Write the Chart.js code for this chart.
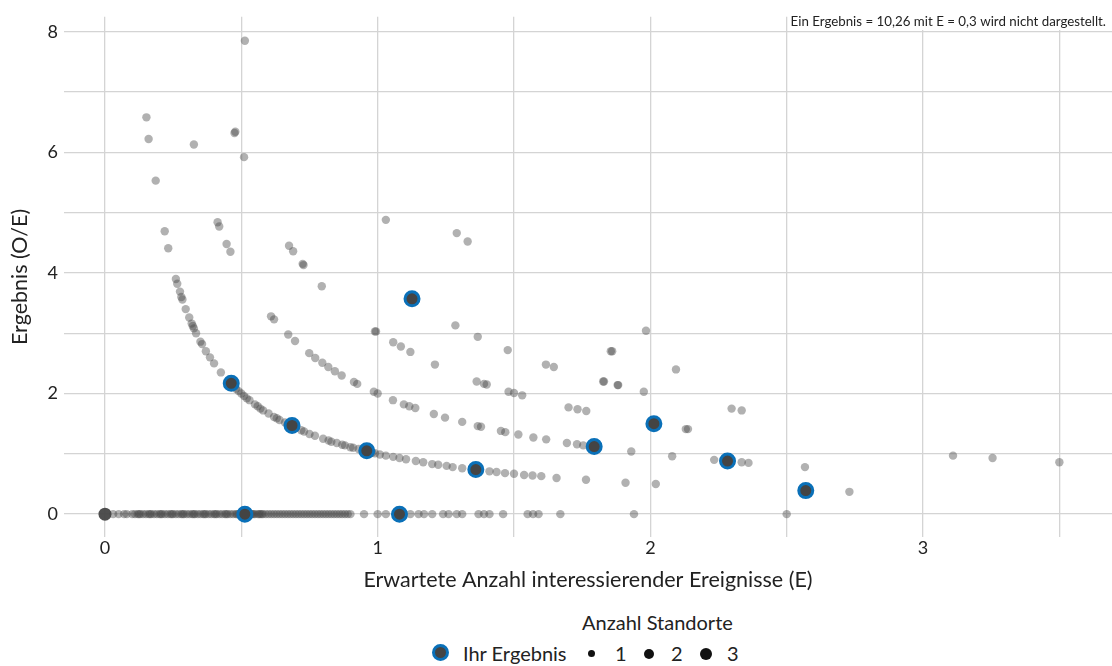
<!DOCTYPE html>
<html>
<head>
<meta charset="utf-8">
<script src="https://cdn.jsdelivr.net/npm/chart.js@4/dist/chart.umd.min.js"></script>
<style>
  body { margin: 0; background: #fff; font-family: Lato, "Noto Sans", sans-serif; color: #222; }
  #wrap { position: relative; width: 1112px; height: 666px; }
  #legend { position: absolute; left: 0; top: 600px; width: 1112px; height: 66px; font-size: 20px; line-height: 24px; }
  .ttl { position: absolute; top: 10px; left: 582px; }
  .dot { position: absolute; border-radius: 50%; background: #111; }
  .lbl { position: absolute; top: 41px; }
</style>
</head>
<body>
<div id="wrap">
  <canvas id="plot" width="1112" height="600"></canvas>
  <div id="legend">
    <div class="ttl">Anzahl Standorte</div>
    <div class="dot" style="left:432px;top:44px;width:11px;height:11px;background:#444;border:3px solid #0a70b8"></div>
    <div class="lbl" style="left:463px">Ihr Ergebnis</div>
    <div class="dot" style="left:588px;top:50px;width:7px;height:7px"></div>
    <div class="lbl" style="left:615px">1</div>
    <div class="dot" style="left:644px;top:49px;width:10px;height:10px"></div>
    <div class="lbl" style="left:671px">2</div>
    <div class="dot" style="left:700px;top:48px;width:12px;height:12px"></div>
    <div class="lbl" style="left:727px">3</div>
  </div>
</div>
<script>
// Erwartete Anzahl (E) der Standorte mit Ergebnis O/E = 0
const zeroE = [0.03,0.05,0.07,0.08,0.1,0.11,0.12,0.13,0.14,0.15,0.16,0.17,0.18,0.19,0.2,0.21,0.22,0.23,0.24,0.25,
  0.26,0.27,0.28,0.29,0.3,0.31,0.32,0.33,0.34,0.35,0.36,0.37,0.38,0.39,0.4,0.41,0.42,0.43,0.44,0.45,0.46,0.47,0.48,
  0.49,0.52,0.53,0.54,0.55,0.56,0.57,0.58,0.6,0.61,0.63,0.65,0.67,0.69,0.7,0.72,0.74,0.75,0.77,0.79,0.8,0.82,0.84,
  0.86,0.88,0.9,0.95,1.0,1.03,1.12,1.15,1.17,1.2,1.24,1.26,1.29,1.31,1.37,1.39,1.41,1.46,1.55,1.57,1.59,1.67,1.94,2.5,
  0.125,0.165,0.205,0.245,0.285,0.325,0.365,0.405,0.445,0.485,0.505,0.515,0.525,0.535,0.545,0.565,0.575,0.59,
  0.62,0.64,0.66,0.68,0.71,0.73,0.76,0.78,0.81,0.83,0.85,0.87,0.89];

// Standort mit drei Standorten bei E = 0
const zeroBig = [[0, 0]];

// [E, O/E] fuer Standorte mit O/E > 0
const obs1 = [[0.152,6.58],[0.16,6.22],[0.186,5.53],[0.219,4.69],[0.232,4.41],[0.26,3.9],[0.265,3.82],[0.275,3.69],
  [0.28,3.6],[0.284,3.56],[0.296,3.4],[0.309,3.26],[0.318,3.16],[0.322,3.12],[0.326,3.08],[0.334,3.0],[0.35,2.86],
  [0.356,2.82],[0.37,2.7],[0.385,2.6],[0.4,2.5],[0.425,2.35],[0.47,2.13],[0.48,2.08],[0.49,2.04],[0.5,2.0],[0.51,1.96],
  [0.52,1.92],[0.53,1.89],[0.55,1.82],[0.56,1.79],[0.57,1.75],[0.58,1.72],[0.6,1.67],[0.62,1.61],[0.63,1.59],
  [0.64,1.56],[0.66,1.52],[0.67,1.49],[0.7,1.43],[0.72,1.39],[0.73,1.37],[0.75,1.33],[0.77,1.3],[0.8,1.25],
  [0.82,1.22],[0.83,1.2],[0.85,1.18],[0.87,1.15],[0.88,1.14],[0.9,1.11],[0.91,1.1],[0.93,1.08],[0.97,1.03],
  [0.98,1.02],[0.99,1.01],[1.008,0.99],[1.03,0.97],[1.057,0.95],[1.08,0.93],[1.104,0.91],[1.14,0.88],[1.167,0.86],
  [1.2,0.83],[1.222,0.82],[1.253,0.8],[1.275,0.78],[1.31,0.76],[1.41,0.71],[1.436,0.7],[1.467,0.68],[1.5,0.67],
  [1.537,0.65],[1.568,0.64],[1.6,0.63],[1.656,0.6],[1.764,0.57],[1.909,0.52],[2.02,0.5],[2.73,0.37]];
const obs2 = [[0.326,6.13],[0.413,4.84],[0.419,4.77],[0.446,4.48],[0.46,4.35],[0.609,3.28],[0.62,3.23],[0.672,2.98],
  [0.697,2.87],[0.749,2.67],[0.771,2.59],[0.797,2.51],[0.819,2.44],[0.843,2.37],[0.868,2.3],[0.913,2.19],[0.925,2.16],
  [0.986,2.03],[1.0,2.0],[1.056,1.89],[1.096,1.82],[1.116,1.79],[1.138,1.76],[1.206,1.66],[1.247,1.6],[1.31,1.53],
  [1.367,1.46],[1.379,1.45],[1.452,1.38],[1.468,1.36],[1.516,1.32],[1.571,1.27],[1.618,1.24],[1.694,1.18],
  [1.731,1.16],[1.754,1.14],[1.93,1.04],[2.08,0.96],[2.234,0.9],[2.335,0.86],[2.36,0.85],[2.567,0.78]];
const obs3 = [[0.478,6.34],[0.475,6.32],[0.51,5.92],[0.675,4.45],[0.69,4.36],[0.725,4.15],[0.728,4.13],[0.795,3.78],
  [0.994,3.03],[0.99,3.03],[1.057,2.85],[1.085,2.78],[1.12,2.69],[1.21,2.48],[1.363,2.2],[1.4,2.15],[1.39,2.16],
  [1.48,2.03],[1.5,2.01],[1.53,1.97],[1.7,1.77],[1.733,1.74],[1.765,1.71],[2.138,1.41],[2.13,1.41],[3.11,0.97],
  [3.255,0.93],[3.5,0.86]];
const obs4 = [[0.513,7.85],[1.285,3.13],[1.367,2.94],[1.477,2.72],[1.617,2.48],[1.646,2.44],[1.827,2.2],[1.83,2.2],
  [1.88,2.14],[1.882,2.14],[1.976,2.03],[2.298,1.75],[2.335,1.72]];
const obs5 = [[1.03,4.88],[1.855,2.7],[1.86,2.7],[2.094,2.4]];
const obs6 = [[1.29,4.66],[1.33,4.52],[1.984,3.04]];

// Ihr Ergebnis
const ownE  = [0.513, 1.08, 0.463, 0.686, 0.96, 1.126, 1.36, 1.794, 2.013, 2.283, 2.57];
const ownOE = [0,     0,    2.17,  1.47,  1.05, 3.57,  0.74, 1.12,  1.5,   0.88,  0.39];

const xTicks = [0, 0.5, 1, 1.5, 2, 2.5, 3, 3.5];
const yTicks = [0, 1, 2, 3, 4, 5, 6, 7, 8];
const xLabels = [0, 1, 2, 3];
const yLabels = [0, 2, 4, 6, 8];
const note = 'Ein Ergebnis = 10,26 mit E = 0,3 wird nicht dargestellt.';

const grey = 'rgba(70,70,70,0.42)';
const sitePoints = zeroE.map(e => ({x: e, y: 0}))
  .concat([].concat(obs1, obs2, obs3, obs4, obs5, obs6).map(p => ({x: p[0], y: p[1]})));

const notePlugin = {
  id: 'note',
  afterDraw(chart) {
    const ctx = chart.ctx;
    ctx.save();
    ctx.fillStyle = '#fff';
    ctx.fillRect(790, 0, 322, 30);
    ctx.fillStyle = '#222';
    ctx.font = '13.3px Lato, "Noto Sans", sans-serif';
    ctx.textAlign = 'right';
    ctx.textBaseline = 'alphabetic';
    ctx.fillText(note, 1106, 26);
    ctx.restore();
  }
};

const ctx = document.getElementById('plot').getContext('2d');
new Chart(ctx, {
  type: 'scatter',
  data: {
    datasets: [
      {
        label: 'Standorte',
        data: sitePoints,
        pointRadius: 4.2,
        pointBackgroundColor: grey,
        pointBorderWidth: 0,
        order: 3
      },
      {
        label: 'Standorte (3)',
        data: zeroBig.map(p => ({x: p[0], y: p[1]})),
        pointRadius: 6.5,
        pointBackgroundColor: 'rgba(70,70,70,0.95)',
        pointBorderWidth: 0,
        order: 2
      },
      {
        label: 'Ihr Ergebnis',
        data: ownE.map((e, i) => ({x: e, y: ownOE[i]})),
        pointRadius: 7,
        pointBackgroundColor: '#444',
        pointBorderColor: '#0a70b8',
        pointBorderWidth: 3,
        order: 1
      }
    ]
  },
  options: {
    responsive: false,
    animation: false,
    layout: { autoPadding: false, padding: { top: 13, right: 0, left: 0, bottom: 0 } },
    plugins: { legend: { display: false }, tooltip: { enabled: false } },
    scales: {
      x: {
        type: 'linear',
        min: -0.1503,
        max: 3.693,
        afterBuildTicks: s => { s.ticks = xTicks.map(v => ({value: v})); },
        afterFit: s => { s.height = 63; },
        border: { display: false },
        grid: { color: '#d4d4d4', lineWidth: 1.3, drawTicks: false },
        ticks: {
          padding: 0,
          color: '#222',
          font: { size: 18, family: 'Lato' },
          callback: v => xLabels.includes(v) ? String(v) : ''
        },
        title: {
          display: true,
          text: 'Erwartete Anzahl interessierender Ereignisse (E)',
          color: '#222',
          font: { size: 21.5, family: 'Lato' },
          padding: { top: 0, bottom: 7 }
        }
      },
      y: {
        type: 'linear',
        min: -0.379,
        max: 8.247,
        afterBuildTicks: s => { s.ticks = yTicks.map(v => ({value: v})); },
        afterFit: s => { s.width = 64; },
        border: { display: false },
        grid: { color: '#d4d4d4', lineWidth: 1.3, drawTicks: false },
        ticks: {
          padding: 6,
          color: '#222',
          font: { size: 18, family: 'Lato' },
          callback: v => yLabels.includes(v) ? String(v) : ''
        },
        title: {
          display: true,
          text: 'Ergebnis (O/E)',
          color: '#222',
          font: { size: 21.5, family: 'Lato' },
          padding: { top: 7, bottom: 0 }
        }
      }
    }
  },
  plugins: [notePlugin]
});
</script>
</body>
</html>
